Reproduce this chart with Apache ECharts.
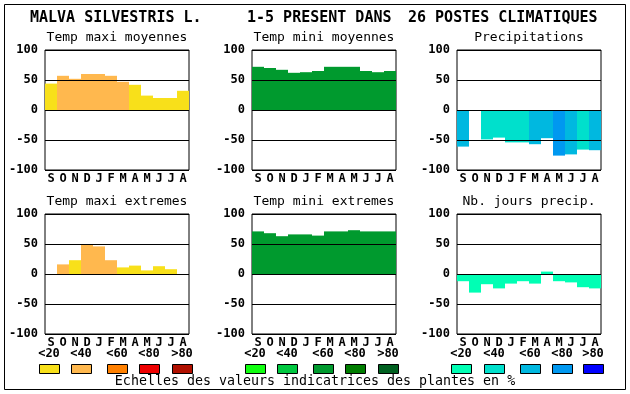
<!DOCTYPE html>
<html><head><meta charset="utf-8">
<script src="https://cdn.jsdelivr.net/npm/echarts@6/dist/echarts.min.js"></script>
<style>html,body{margin:0;padding:0;background:#fff}#c{width:630px;height:394px}</style>
</head><body><div id="c"></div>
<script>
var months = ['S','O','N','D','J','F','M','A','M','J','J','A'];
var yTicks = [-100, -50, 0, 50, 100];
var scaleLabels = ['<20','<40','<60','<80','>80'];

var panelTitles = ['Temp maxi moyennes','Temp mini moyennes','Precipitations',
                   'Temp maxi extremes','Temp mini extremes','Nb. jours precip.'];

// values
var tmaxMoy = [44, 57, 52, 60, 60, 57, 47, 42, 24, 20, 20, 32];
var tminMoy = [72, 70, 67, 62, 63, 65, 72, 72, 72, 65, 63, 65];
var precip  = [-61, 0, -49, -46, -54, -54, -57, -47, -76, -74, -66, -67];
var tmaxExt = [0, 16, 23, 49, 46, 23, 11, 14, 6, 13, 8, 0];
var tminExt = [71, 68, 63, 66, 66, 64, 71, 71, 73, 71, 71, 71];
var nbJours = [-12, -31, -17, -24, -16, -12, -16, 4, -12, -14, -22, -24];

// colour class per bar (0:<20 1:<40 2:<60 3:<80 4:>80)
var tmaxMoyCls = [0, 1, 1, 1, 1, 1, 1, 0, 0, 0, 0, 0];
var tminMoyCls = [2, 2, 2, 2, 2, 2, 2, 2, 2, 2, 2, 2];
var precipCls  = [2, 2, 1, 1, 1, 1, 2, 2, 3, 2, 1, 2];
var tmaxExtCls = [0, 1, 0, 1, 1, 1, 0, 0, 0, 0, 0, 0];
var tminExtCls = [2, 2, 2, 2, 2, 2, 2, 2, 2, 2, 2, 2];
var nbJoursCls = [0, 0, 0, 0, 0, 0, 0, 0, 0, 0, 0, 0];

var redScale   = ['#f8e01a', '#ffb84e', '#ff8000', '#ee0000', '#b01000'];
var greenScale = ['#10ff10', '#00c840', '#009a2e', '#007d00', '#006020'];
var blueScale  = ['#00ffb4', '#00e0cc', '#00b8e0', '#0098f0', '#0000ff'];

var panelValues = [tmaxMoy, tminMoy, precip, tmaxExt, tminExt, nbJours];
var panelCls = [tmaxMoyCls, tminMoyCls, precipCls, tmaxExtCls, tminExtCls, nbJoursCls];
var panelScales = [redScale, greenScale, blueScale, redScale, greenScale, blueScale];

var lefts = [45, 252, 457];
var tops = [50, 214];
var W = 144, H = 120;
var mono = 'DejaVu Sans Mono';

var grids = [], xAxes = [], yAxes = [], series = [], graphics = [];
for (var i = 0; i < 6; i++) {
  var col = i % 3, row = Math.floor(i / 3);
  grids.push({left: lefts[col], top: tops[row], width: W, height: H,
    show: true, borderColor: '#000', borderWidth: 1, backgroundColor: '#fff'});
  xAxes.push({type: 'category', gridIndex: i, data: months,
    axisLine: {show: false}, axisTick: {show: false},
    axisLabel: {interval: 0, margin: 3, color: '#000', fontFamily: mono, fontWeight: 'bold', fontSize: 12}});
  yAxes.push({type: 'value', gridIndex: i, min: yTicks[0], max: yTicks[yTicks.length-1], interval: 50, z: 5,
    axisLine: {show: false}, axisTick: {show: false},
    splitLine: {show: true, lineStyle: {color: '#000', width: 1}},
    axisLabel: {margin: 7, color: '#000', fontFamily: mono, fontWeight: 'bold', fontSize: 12}});
  (function(vals, cls, sc, idx) {
    series.push({type: 'bar', xAxisIndex: idx, yAxisIndex: idx, z: 2,
      barWidth: '100%', barCategoryGap: 0, silent: true, animation: false,
      data: vals.map(function(v, k) { return {value: v, itemStyle: {color: sc[cls[k]]}}; })});
  })(panelValues[i], panelCls[i], panelScales[i], i);
  graphics.push({type: 'text', x: lefts[col] + W / 2, y: tops[row] - 12,
    style: {text: panelTitles[i], font: '13px "' + mono + '"', fill: '#000', textAlign: 'center', textVerticalAlign: 'middle'}});
}

// main title
graphics.push({type: 'text', x: 30, y: 18, style: {text: 'MALVA SILVESTRIS L.', font: 'bold 15px "' + mono + '"', fill: '#000', textVerticalAlign: 'middle'}});
graphics.push({type: 'text', x: 247, y: 18, style: {text: '1-5 PRESENT DANS', font: 'bold 15px "' + mono + '"', fill: '#000', textVerticalAlign: 'middle'}});
graphics.push({type: 'text', x: 408, y: 18, style: {text: '26 POSTES CLIMATIQUES', font: 'bold 15px "' + mono + '"', fill: '#000', textVerticalAlign: 'middle'}});

// legend scales
var legendX = [[39, 71, 107, 139, 172], [245, 277, 313, 345, 378], [451, 484, 520, 552, 583]];
var legendScales = [redScale, greenScale, blueScale];
for (var g = 0; g < 3; g++) {
  for (var k = 0; k < 5; k++) {
    var bx = legendX[g][k];
    graphics.push({type: 'text', x: bx + 10, y: 354,
      style: {text: scaleLabels[k], font: 'bold 12px "' + mono + '"', fill: '#000', textAlign: 'center', textVerticalAlign: 'middle'}});
    graphics.push({type: 'rect', shape: {x: bx + 0.5, y: 364.5, width: 20, height: 9},
      style: {fill: legendScales[g][k], stroke: '#000', lineWidth: 1}});
  }
}
graphics.push({type: 'text', x: 315, y: 382,
  style: {text: 'Echelles des valeurs indicatrices des plantes en %', font: '13.3px "' + mono + '"', fill: '#000', textAlign: 'center', textVerticalAlign: 'middle'}});
// outer frame
graphics.push({type: 'rect', z: -1, shape: {x: 4.5, y: 4.5, width: 621, height: 385},
  style: {fill: 'none', stroke: '#000', lineWidth: 1}});

var chart = echarts.init(document.getElementById('c'), null, {renderer: 'canvas'});
chart.setOption({
  animation: false,
  backgroundColor: '#fff',
  grid: grids, xAxis: xAxes, yAxis: yAxes, series: series,
  graphic: graphics
});
</script></body></html>
